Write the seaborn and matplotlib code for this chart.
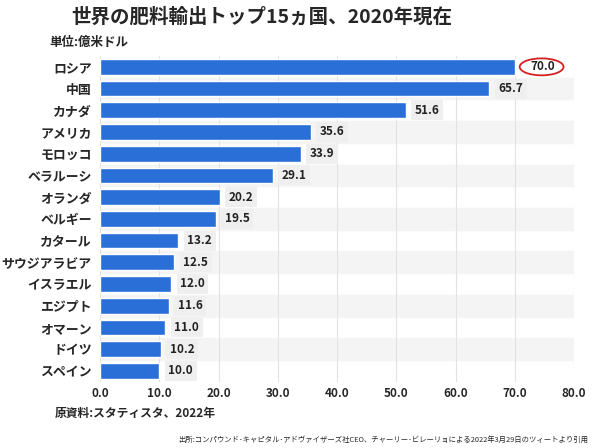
import matplotlib
matplotlib.use("Agg")
import matplotlib.pyplot as plt
from matplotlib.patches import Ellipse
import seaborn as sns
import pandas as pd

countries = ["ロシア", "中国", "カナダ", "アメリカ", "モロッコ", "ベラルーシ", "オランダ",
             "ベルギー", "カタール", "サウジアラビア", "イスラエル", "エジプト", "オマーン",
             "ドイツ", "スペイン"]
values = [70.0, 65.7, 51.6, 35.6, 33.9, 29.1, 20.2, 19.5, 13.2, 12.5, 12.0, 11.6, 11.0, 10.2, 10.0]
xticks = [0, 10, 20, 30, 40, 50, 60, 70, 80]

sns.set_theme(style="white")
plt.rcParams['font.family'] = ['Noto Sans CJK JP', 'DejaVu Sans']

df = pd.DataFrame({"country": countries, "value": values})

fig = plt.figure(figsize=(6, 4.48), dpi=100)
ax = fig.add_axes([0.167, 0.148, 0.79, 0.727])

# alternating row stripes
for i in range(len(countries)):
    if i % 2 == 1:
        ax.axhspan(i - 0.5, i + 0.5, color="#f4f4f4", zorder=0)

sns.barplot(data=df, x="value", y="country", color="#2a6fd8", saturation=1,
            width=0.72, ax=ax, zorder=3)

for i, v in enumerate(values):
    if i == 0:
        # top value sits inside a red circle, no grey box
        ax.text(v + 4.6, i, f"{v:.1f}", va="center", ha="center", fontsize=8.5,
                fontweight="bold", color="#222222", zorder=6)
        continue
    ax.text(v + 1.5, i, f"{v:.1f}", va="center", ha="left", fontsize=8.5,
            fontweight="bold", color="#222222", zorder=4,
            bbox=dict(boxstyle="square,pad=0.3", fc="#efefef", ec="none"))

# red circle around the top value
ax.add_patch(Ellipse((values[0] + 4.5, 0), 7.4, 0.78, fill=False, ec="#d62020",
                     lw=1.3, zorder=5))

ax.set_xlim(0, 80)
ax.set_ylim(len(countries) - 0.5, -0.5)
ax.set_xticks(xticks)
ax.set_xticklabels([f"{t:.1f}" for t in xticks], fontsize=8.5, fontweight="bold")
ax.tick_params(axis="y", labelsize=9.3, length=0, pad=6)
ax.tick_params(axis="x", length=0, pad=4)
for lbl in ax.get_yticklabels():
    lbl.set_fontweight("bold")
ax.set_xlabel("")
ax.set_ylabel("")
ax.grid(axis="x", color="#e2e2e2", lw=0.8, zorder=1)
for s in ax.spines.values():
    s.set_visible(False)

fig.text(0.437, 0.962, "世界の肥料輸出トップ15ヵ国、2020年現在", ha="center", va="center",
         fontsize=14, fontweight="bold")
fig.text(0.083, 0.906, "単位:億米ドル", ha="left", va="center", fontsize=9, fontweight="bold")
fig.text(0.092, 0.077, "原資料:スタティスタ、2022年", ha="left", va="center", fontsize=8.5,
         fontweight="bold")
fig.text(0.98, 0.018, "出所:コンパウンド･キャピタル･アドヴァイザーズ社CEO、チャーリー･ビレーリョによる2022年3月29日のツィートより引用",
         ha="right", va="center", fontsize=5.3)

fig.savefig("out.png", dpi=100, facecolor="white")
